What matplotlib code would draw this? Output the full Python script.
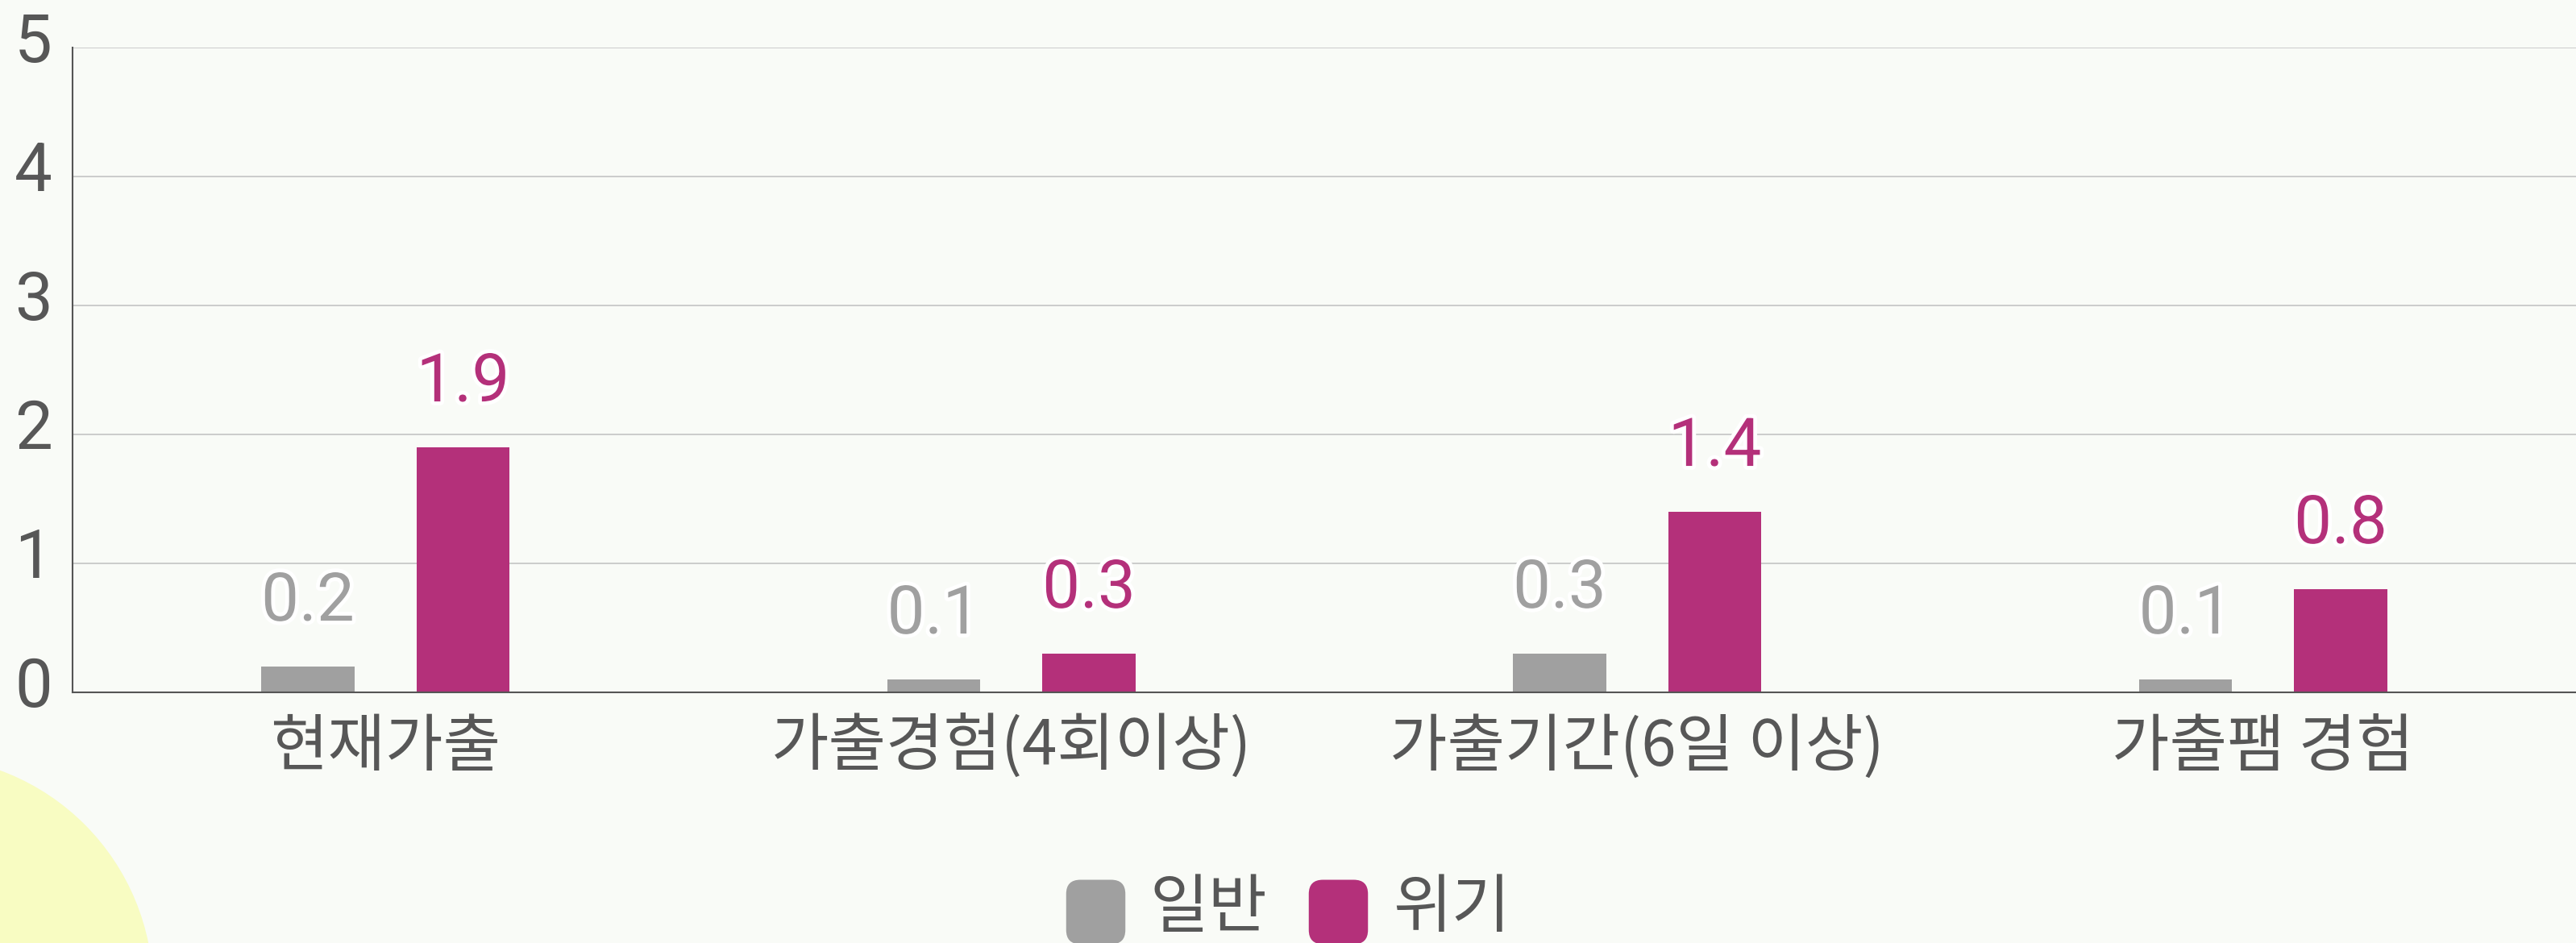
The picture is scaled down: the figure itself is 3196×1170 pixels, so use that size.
import matplotlib
matplotlib.use("Agg")
import matplotlib.pyplot as plt
import matplotlib.patheffects as pe
from matplotlib.patches import Circle, BoxStyle
from matplotlib.lines import Line2D
from matplotlib.transforms import IdentityTransform, ScaledTranslation
import numpy as np

categories = ['현재가출', '가출경험(4회이상)', '가출기간(6일 이상)', '가출팸 경험']
series_names = ['일반', '위기']
normal_vals = [0.2, 0.1, 0.3, 0.1]
crisis_vals = [1.9, 0.3, 1.4, 0.8]
y_ticks = [0, 1, 2, 3, 4, 5]

GRAY = '#a0a0a0'
MAGENTA = '#b4307a'
TEXT = '#575757'
BG = '#f9fbf7'
KR = ['Noto Sans CJK KR', 'DejaVu Sans']

plt.rcParams['font.family'] = ['Roboto', 'Noto Sans CJK KR', 'DejaVu Sans']

fig = plt.figure(figsize=(31.96, 11.70), dpi=100, facecolor=BG)

# decorative yellow blob, bottom left (pixel coords, origin bottom-left)
blob = Circle((-100, -58), 290, transform=IdentityTransform(),
              facecolor='#f8fcc2', edgecolor='none', zorder=0)
fig.patches.append(blob)

ax = fig.add_axes([90 / 3196, 1 - 859 / 1170, 1 - 90 / 3196, (859 - 59) / 1170])
ax.set_facecolor('none')

x = np.arange(len(categories))
w = 0.149
off = 0.124
b1 = ax.bar(x - off, normal_vals, w, color=GRAY, zorder=3)
b2 = ax.bar(x + off, crisis_vals, w, color=MAGENTA, zorder=3)

halo = [pe.withStroke(linewidth=7, foreground='white')]
for bars, vals, col in [(b1, normal_vals, GRAY), (b2, crisis_vals, MAGENTA)]:
    for r, v in zip(bars, vals):
        ax.annotate(f'{v:.1f}', (r.get_x() + r.get_width() / 2, v),
                    xytext=(0, 41), textcoords='offset points',
                    ha='center', va='baseline', fontsize=60, color=col,
                    path_effects=halo, zorder=4)

ax.set_xlim(-0.5, 3.5)
ax.set_ylim(0, 5)
ax.set_yticks(y_ticks)
ax.set_xticks(x)
ax.set_xticklabels(categories, family=KR, fontsize=56)
ax.tick_params(axis='y', length=0, labelsize=60, labelcolor=TEXT, pad=18)
ax.tick_params(axis='x', length=0, labelcolor=TEXT, pad=21)
up = ScaledTranslation(0, 10 / 72, fig.dpi_scale_trans)
for lab in ax.get_yticklabels():
    lab.set_transform(lab.get_transform() + up)
ax.grid(axis='y', color='#c4c4c4', linewidth=1.2, zorder=1)
for s in ['top', 'right']:
    ax.spines[s].set_visible(False)
for s in ['left', 'bottom']:
    ax.spines[s].set_color('#555555')
    ax.spines[s].set_linewidth(1.5)
    ax.spines[s].set_zorder(5)

# rounded-square legend marker, slightly below text centre
rr = BoxStyle.Round(pad=0, rounding_size=0.22)(-0.46, -0.6, 0.92, 1.0, 1.0)
handles = [Line2D([], [], linestyle='none', marker=rr, markersize=69,
                  markerfacecolor=c, markeredgecolor='none')
           for c in (GRAY, MAGENTA)]
fig.legend(handles, series_names, loc='center', bbox_to_anchor=(1598 / 3196, 1 - 1128 / 1170),
           ncol=2, frameon=False, labelcolor=TEXT,
           prop={'family': KR, 'size': 57},
           handlelength=0.93, handletextpad=0.39, columnspacing=0.64)

fig.savefig('out.png', dpi=100, facecolor=BG)
